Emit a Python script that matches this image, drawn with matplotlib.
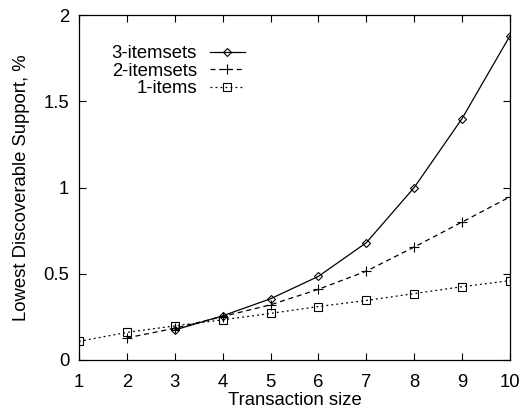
import matplotlib
matplotlib.use("Agg")
import matplotlib.pyplot as plt

plt.rcParams['font.family'] = ['Liberation Sans', 'DejaVu Sans']

# transaction sizes
x_all = [1, 2, 3, 4, 5, 6, 7, 8, 9, 10]

# lowest discoverable support, %
items1 = [0.108, 0.16, 0.198, 0.233, 0.27, 0.31, 0.345, 0.385, 0.425, 0.46]
x_2 = [2, 3, 4, 5, 6, 7, 8, 9, 10]
itemsets2 = [0.128, 0.184, 0.252, 0.32, 0.41, 0.515, 0.655, 0.80, 0.946]
x_3 = [3, 4, 5, 6, 7, 8, 9, 10]
itemsets3 = [0.174, 0.256, 0.355, 0.485, 0.68, 1.0, 1.40, 1.88]

y_ticks = [0, 0.5, 1, 1.5, 2]
y_ticklabels = ["0", "0.5", "1", "1.5", "2"]

fs = 13.3

fig = plt.figure(figsize=(5.21, 4.12), dpi=100)
ax = fig.add_axes([79/521, 1 - 360/412, (510 - 79)/521, (360 - 15)/412])

ax.plot(x_3, itemsets3, color="black", lw=0.9, ls="-", marker="D",
        ms=4.2, mfc="none", mec="black", mew=0.8, label="3-itemsets")
ax.plot(x_2, itemsets2, color="black", lw=0.9, ls=(0, (4, 3)), marker="+",
        ms=6.5, mew=0.8, label="2-itemsets")
ax.plot(x_all, items1, color="black", lw=0.9, ls=(0, (1.5, 2.5)), marker="s",
        ms=6, mfc="none", mec="black", mew=0.8, label="1-items")

ax.set_xlim(1, 10)
ax.set_ylim(0, 2)
ax.set_xticks(x_all)
ax.set_yticks(y_ticks)
ax.set_yticklabels(y_ticklabels)
ax.tick_params(direction="in", top=True, right=True, length=5, width=0.8,
               labelsize=fs)
ax.tick_params(axis="x", pad=10)
ax.tick_params(axis="y", pad=7)
for s in ax.spines.values():
    s.set_linewidth(0.9)

ax.set_xlabel("Transaction size", fontsize=fs, labelpad=0.5)
ax.set_ylabel("Lowest Discoverable Support, %", fontsize=fs, labelpad=10)

ax.legend(loc="upper right", bbox_to_anchor=(0.385, 0.913), frameon=False,
          markerfirst=False, fontsize=fs, handlelength=1.9,
          handletextpad=0.7, labelspacing=0.03, borderaxespad=0, borderpad=0)

fig.savefig("out.png", dpi=100)
